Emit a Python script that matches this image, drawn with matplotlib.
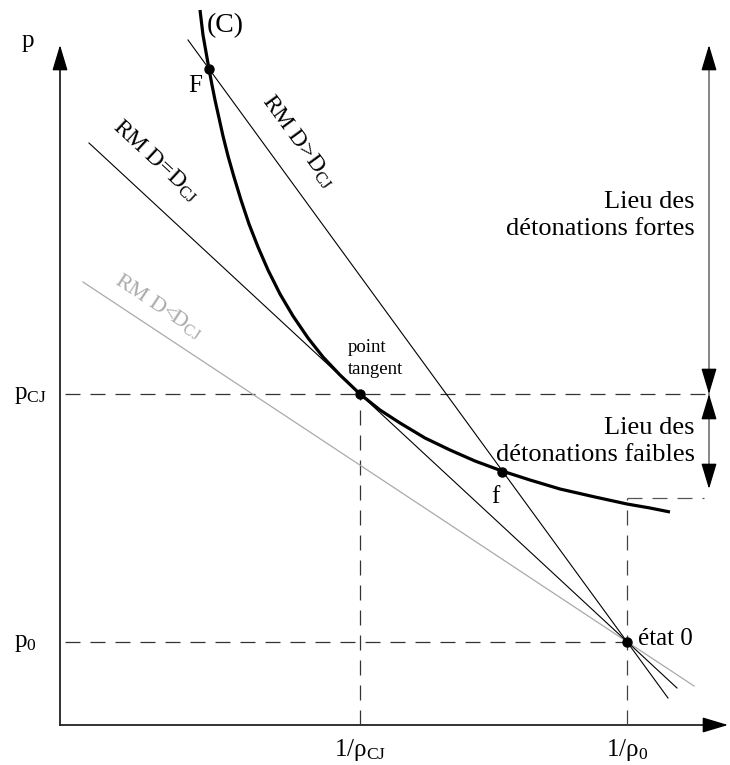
import matplotlib
matplotlib.use('Agg')
import matplotlib.pyplot as plt

plt.rcParams['font.family'] = ['Liberation Serif', 'DejaVu Serif']
plt.rcParams['mathtext.fontset'] = 'custom'
plt.rcParams['mathtext.rm'] = 'Liberation Serif'
plt.rcParams['mathtext.it'] = 'Liberation Serif:italic'

# ---- data (v = 1/rho horizontal, p vertical; schematic units) ----
v_cj, p_cj = 300, 331          # point tangent (Chapman-Jouguet)
v_0, p_0 = 567, 83             # état 0
F_pt = (149, 656)              # strong detonation point
f_pt = (442, 253)              # weak detonation point

# Hugoniot curve (C)
curve_v = [140, 143, 146, 149, 152, 155, 159, 163, 168, 174, 181, 189, 198,
           208, 220, 233, 248, 263, 280, 300, 320, 340, 365, 390, 415, 442,
           470, 500, 535, 567, 590, 610]
curve_p = [715, 690, 673, 656, 640, 625, 607, 589, 569, 548, 525, 501, 478,
           455, 431, 409, 387, 368, 350, 331, 315, 302, 287, 275, 264, 254,
           245, 236, 228, 221, 217, 213]

# Rayleigh–Michelson lines (end points)
rm_strong_v, rm_strong_p = [128, 608], [685, 27]
rm_cj_v, rm_cj_p = [29, 617], [582, 37]
rm_weak_v, rm_weak_p = [23, 634], [443, 39]

# axes extents and side arrows
v_axis_end, p_axis_end = 668, 680
v_side = 649
p_box = 227
p_arrow_low = 236

fig = plt.figure(figsize=(7.30, 7.65), dpi=100)
ax = fig.add_axes([0, 0, 1, 1])
ax.set_xlim(-60, 670)
ax.set_ylim(-40, 725)
ax.axis('off')

hs = '-|>,head_length=0.8,head_width=0.24'


def head(tip, frm):
    ax.annotate('', xy=tip, xytext=frm, annotation_clip=False,
                arrowprops=dict(arrowstyle=hs, lw=1.0, color='black',
                                mutation_scale=20, shrinkA=0, shrinkB=0))


# axes
ax.plot([0, 0], [0, p_axis_end - 20], color='#222222', lw=1.3)
ax.plot([0, v_axis_end - 20], [0, 0], color='#222222', lw=1.3)
head((0, p_axis_end), (0, p_axis_end - 22))
head((v_axis_end, 0), (v_axis_end - 22, 0))

# dashed guides
dash = dict(color='#333333', lw=0.9, dashes=(12, 8))
ax.plot([5, v_side], [p_cj, p_cj], **dash)
ax.plot([5, v_0], [p_0, p_0], **dash)
ax.plot([v_cj, v_cj], [0, p_cj], **dash)
ax.plot([v_0, v_0], [0, p_box], color='#444444', lw=0.9, dashes=(12, 8))
ax.plot([v_0, v_side - 5], [p_box, p_box], color='#555555', lw=0.9,
        dashes=(12, 8))

# Rayleigh lines
ax.plot(rm_weak_v, rm_weak_p, color='#aaaaaa', lw=0.9)
ax.plot(rm_cj_v, rm_cj_p, color='black', lw=0.8)
ax.plot(rm_strong_v, rm_strong_p, color='black', lw=0.8)

# Hugoniot curve
ax.plot(curve_v, curve_p, color='black', lw=2.3, solid_capstyle='butt',
        solid_joinstyle='round')

# points
for (xv, yp) in [F_pt, f_pt, (v_cj, p_cj), (v_0, p_0)]:
    ax.plot(xv, yp, 'o', color='black', ms=6.5)

# right-hand double arrows
ax.plot([v_side, v_side], [p_arrow_low + 15, p_axis_end - 15],
        color='#666666', lw=1.1)
head((v_side, p_axis_end), (v_side, p_axis_end - 22))
head((v_side, p_cj), (v_side, p_cj + 22))
head((v_side, p_cj), (v_side, p_cj - 22))
head((v_side, p_arrow_low), (v_side, p_arrow_low + 22))

fs = 18
ax.text(-32, 678, 'p', fontsize=fs, ha='center', va='baseline')
ax.text(-46, p_cj - 5, r'p$_{\rm CJ}$', fontsize=fs, ha='left', va='baseline')
ax.text(-46, p_0 - 5, r'p$_0$', fontsize=fs, ha='left', va='baseline')
ax.text(v_cj, -31, r'1/ρ$_{\rm CJ}$', fontsize=fs, ha='center', va='baseline')
ax.text(v_0, -31, r'1/ρ$_0$', fontsize=fs, ha='center', va='baseline')
ax.text(v_0 + 11, p_0 - 3, 'état 0', fontsize=fs, ha='left', va='baseline')
ax.text(135, 633, 'F', fontsize=fs, ha='center', va='baseline')
ax.text(435, 222, 'f', fontsize=fs, ha='center', va='baseline')
ax.text(147, 693, '(C)', fontsize=20, ha='left', va='baseline')
ax.text(288, 373, 'point', fontsize=13.5, ha='left', va='baseline')
ax.text(288, 351, 'tangent', fontsize=13.5, ha='left', va='baseline')

for txt, base in [('Lieu des', 517), ('détonations fortes', 490),
                  ('Lieu des', 291), ('détonations faibles', 264)]:
    ax.text(635, base, txt, fontsize=19, ha='right', va='baseline')

ax.text(238, 583, r'RM D>D$_{\rm CJ}$', fontsize=17, rotation=-53.9,
        rotation_mode='anchor', ha='center', va='center')
ax.text(96, 564, r'RM D=D$_{\rm CJ}$', fontsize=17, rotation=-42.8,
        rotation_mode='anchor', ha='center', va='center')
ax.text(99, 419, r'RM D<D$_{\rm CJ}$', fontsize=16, rotation=-33.5,
        rotation_mode='anchor', ha='center', va='center', color='#aaaaaa')

fig.savefig('out.png', dpi=100)
